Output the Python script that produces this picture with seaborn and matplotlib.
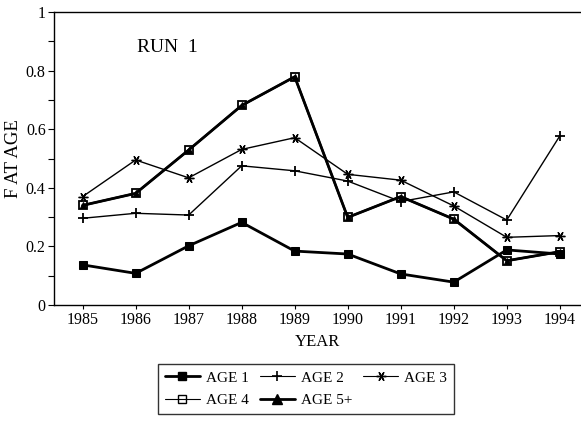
import matplotlib
matplotlib.use("Agg")
import matplotlib.pyplot as plt
import seaborn as sns
import pandas as pd
from matplotlib.lines import Line2D

years = [1985, 1986, 1987, 1988, 1989, 1990, 1991, 1992, 1993, 1994]
age1 = [0.137, 0.108, 0.202, 0.282, 0.184, 0.174, 0.106, 0.078, 0.188, 0.174]
age2 = [0.296, 0.313, 0.307, 0.475, 0.458, 0.423, 0.353, 0.386, 0.290, 0.577]
age3 = [0.370, 0.495, 0.434, 0.531, 0.571, 0.446, 0.426, 0.338, 0.231, 0.237]
age4 = [0.340, 0.381, 0.529, 0.681, 0.779, 0.299, 0.370, 0.293, 0.151, 0.182]
age5 = [0.340, 0.381, 0.529, 0.681, 0.779, 0.299, 0.370, 0.293, 0.151, 0.182]
yticks = [0, 0.2, 0.4, 0.6, 0.8, 1]
ytick_labels = ["0", "0.2", "0.4", "0.6", "0.8", "1"]

sns.set_theme(style="white")
plt.rcParams["font.family"] = ["Liberation Serif", "DejaVu Serif"]

fig = plt.figure(figsize=(5.81, 4.23), dpi=100)
ax = fig.add_axes([54 / 581, 118 / 423, 527 / 581, 293 / 423])

asterisk = (6, 2, 90)
series = [
    ("AGE 1", age1, dict(marker="s", markersize=6, linewidth=2.0, markerfacecolor="black")),
    ("AGE 2", age2, dict(marker="+", markersize=7, linewidth=1.0, markeredgewidth=1.3)),
    ("AGE 3", age3, dict(marker=asterisk, markersize=7, linewidth=1.0, markeredgewidth=1.0)),
    ("AGE 5+", age5, dict(marker="^", markersize=4, linewidth=2.0, markerfacecolor="black")),
    ("AGE 4", age4, dict(marker="s", markersize=6, linewidth=1.6, markerfacecolor="none",
                         markeredgewidth=1.3)),
]

for name, vals, style in series:
    df = pd.DataFrame({"YEAR": years, "F": vals})
    sns.lineplot(data=df, x="YEAR", y="F", ax=ax, color="black",
                 markeredgecolor="black", legend=False, **style)

ax.set_xlim(1984.46, 1994.4)
ax.set_ylim(0, 1)
ax.set_xticks(years)
ax.set_xticklabels([str(y) for y in years], fontsize=11.5)
ax.set_yticks(yticks)
ax.set_yticklabels(ytick_labels, fontsize=11.5)
ax.set_yticks([0.1, 0.3, 0.5, 0.7, 0.9], minor=True)
ax.tick_params(axis="both", which="both", direction="out", length=4, width=0.8,
               color="black", labelcolor="black", left=True, bottom=True, pad=2)
ax.tick_params(axis="x", length=3)

for side in ["left", "bottom", "top"]:
    ax.spines[side].set_visible(True)
    ax.spines[side].set_color("black")
    ax.spines[side].set_linewidth(1.0)
ax.spines["right"].set_visible(False)

ax.set_xlabel("YEAR", fontsize=12, color="black", labelpad=4)
ax.set_ylabel("F AT AGE", fontsize=13.5, color="black", labelpad=3)
ax.text(1986.02, 0.88, "RUN  1", fontsize=14, color="black", ha="left", va="center")

# legend entries ordered so that the three-column grid reads row by row
handles = [
    Line2D([], [], color="black", marker="s", markersize=6, linewidth=2.0),
    Line2D([], [], color="black", marker="s", markersize=6, linewidth=0.8, markerfacecolor="none"),
    Line2D([], [], color="black", marker="+", markersize=7, linewidth=0.8, markeredgewidth=1.2),
    Line2D([], [], color="black", marker="^", markersize=7, linewidth=2.0),
    Line2D([], [], color="black", marker=asterisk, markersize=7, linewidth=0.8),
]
labels = ["AGE 1", "AGE 4", "AGE 2", "AGE 5+", "AGE 3"]
leg = fig.legend(handles, labels, ncol=3, loc="upper left",
                 bbox_to_anchor=(158 / 581, 1 - 364 / 423), borderaxespad=0,
                 frameon=True, fancybox=False, edgecolor="black", fontsize=11,
                 labelcolor="black", handlelength=2.3, handletextpad=0.4,
                 columnspacing=0.7, borderpad=0.45, labelspacing=0.6)
leg.get_frame().set_linewidth(1.0)

fig.savefig("out.png", dpi=100)
